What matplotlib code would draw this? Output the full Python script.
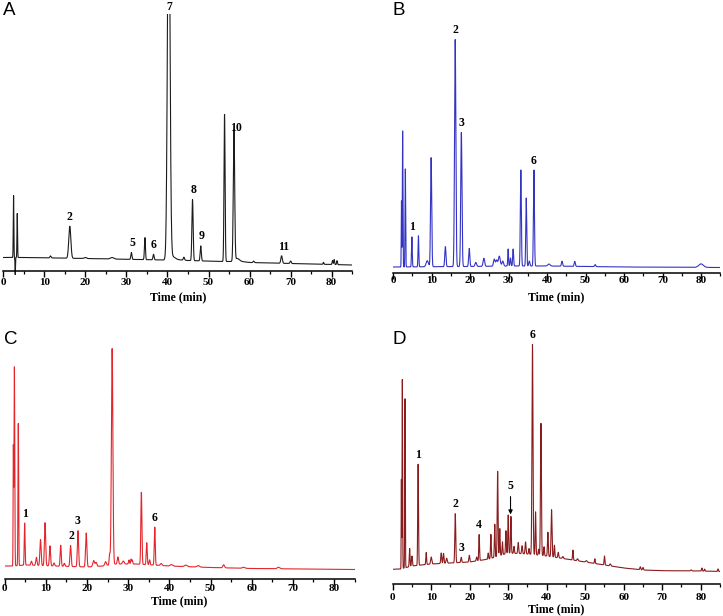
import numpy as np
import matplotlib
matplotlib.use("Agg")
import matplotlib.pyplot as plt
from matplotlib.ticker import MultipleLocator

# ---- peak tables (time in min, signal a.u.) ----
A_rt = [2.5, 2.9, 3.4, 11.5, 16.2, 20.0, 26.5, 31.2, 34.5, 36.6, 40.3, 41.2, 44.0, 46.1,
        48.1, 53.9, 56.2, 57.0, 61.0, 67.8, 70.0, 78.0, 80.2, 80.6, 81.3]
A_h = [62, -17, 44, 2, 32, 1, 1.5, 7, 22, 5.5, 400, 3, 3, 61,
       15, 147, 131, 3, 1.5, 7.5, 2.5, 2, 4, 5, 4]
A_w = [0.07, 0.05, 0.07, 0.15, 0.25, 0.3, 0.4, 0.13, 0.12, 0.14, 0.3, 0.6, 0.15, 0.15,
       0.14, 0.13, 0.17, 0.5, 0.15, 0.18, 0.15, 0.1, 0.1, 0.1, 0.1]
A_base_t = [0, 2, 5, 20, 39, 42, 45, 53, 58, 60, 70, 80, 85]
A_base = [13, 13, 13, 12, 10.5, 11, 10, 9, 9, 8, 7, 6, 5.5]

B_rt = [2.2, 2.5, 3.2, 4.9, 6.6, 8.9, 9.9, 13.6, 16.15, 17.75, 19.8, 21.5, 23.6, 26.3,
        26.9, 27.6, 28.5, 29.9, 30.5, 31.2, 33.2, 34.6, 35.4, 36.6, 40.5, 43.9, 47.2,
        52.5, 80.0]
B_h = [66, 136, 98, 30, 31, 6, 109, 20, 227, 134, 18, 4, 8, 7,
       6, 10, 5, 17, 8, 17, 96, 68, 5, 96, 2, 5, 5,
       2, 3.5]
B_w = [0.06, 0.08, 0.08, 0.1, 0.1, 0.3, 0.15, 0.15, 0.17, 0.16, 0.15, 0.2, 0.2, 0.2,
       0.2, 0.25, 0.2, 0.1, 0.12, 0.12, 0.13, 0.12, 0.15, 0.13, 0.3, 0.15, 0.15,
       0.15, 0.6]
B_base_t = [0, 2, 10, 20, 30, 40, 60, 85]
B_base = [6, 6, 6.3, 6.5, 7, 7, 6, 5.5]

C_rt = [2.1, 2.35, 3.3, 4.85, 6.5, 7.7, 8.7, 9.8, 11.0, 12.0, 13.6, 14.5, 16.0, 17.8,
        19.8, 21.6, 22.2, 24.5, 25.5, 26.1, 27.5, 28.8, 30.2, 30.7, 31.0, 33.2, 34.5,
        35.2, 36.45, 38.0, 40.5, 44.0, 47.0, 53.2, 58.0, 66.5]
C_h = [117, 199, 142, 42, 4, 8, 26, 43, 20, 3, 21, 3, 21, 36,
       34, 6, 4, 4, 11, 216, 7, 3, 4, 5, 4, 72, 22,
       5, 38, 2, 1.5, 1.5, 1.5, 3, 1, 1.5]
C_w = [0.06, 0.09, 0.08, 0.1, 0.15, 0.15, 0.15, 0.15, 0.14, 0.15, 0.13, 0.15, 0.15, 0.15,
       0.16, 0.2, 0.2, 0.2, 0.12, 0.18, 0.15, 0.2, 0.12, 0.1, 0.1, 0.13, 0.12,
       0.12, 0.12, 0.2, 0.3, 0.3, 0.3, 0.2, 0.3, 0.3]
C_base_t = [0, 2, 5, 12, 20, 24, 27, 32, 36, 40, 50, 60, 80, 85]
C_base = [13, 13, 14, 13, 12, 13, 15, 15, 14, 13, 11.5, 10.5, 9.7, 9.5]

D_rt = [2.25, 2.5, 3.2, 4.4, 5.0, 6.6, 8.7, 10.0, 12.6, 13.2, 14.0, 16.25, 17.8, 19.9,
        21.8, 22.45, 24.8, 25.5, 26.5, 27.25, 27.8, 28.5, 29.4, 30.0, 30.7, 31.5, 32.6,
        33.6, 34.5, 35.4, 36.3, 37.1, 37.9, 38.5, 39.3, 40.3, 41.25, 42.0, 43.0, 44.2,
        46.8, 48.0, 50.3, 52.5, 55.0, 56.5, 64.3, 65.0, 77.5, 80.3, 81.0, 84.5]
D_h = [89, 189, 169, 18, 10, 101, 12, 7, 10.5, 10, 5, 49, 5, 6.7,
       4, 26, 6, 24, 33, 85, 27, 13, 23, 38, 36.7, 7, 11,
       8, 12, 5.7, 210, 43, 6, 132, 9, 24, 47, 12, 5.5, 2,
       10, 2, 1.5, 4.7, 9, 2, 3, 2.5, 1, 3, 2, 2.5]
D_w = [0.05, 0.07, 0.07, 0.1, 0.12, 0.1, 0.1, 0.15, 0.12, 0.12, 0.15, 0.12, 0.12, 0.12,
       0.12, 0.1, 0.1, 0.1, 0.1, 0.11, 0.1, 0.1, 0.1, 0.1, 0.1, 0.1, 0.12,
       0.12, 0.12, 0.1, 0.13, 0.1, 0.1, 0.12, 0.1, 0.11, 0.12, 0.1, 0.12, 0.15,
       0.1, 0.15, 0.2, 0.1, 0.1, 0.15, 0.12, 0.12, 0.15, 0.1, 0.1, 0.1]
D_base_t = [0, 2, 5, 10, 15, 20, 25, 30, 35, 40, 45, 50, 55, 60, 65, 70, 80, 85]
D_base = [14.7, 15, 18, 20, 21, 22, 25, 31, 30, 28, 25, 22, 19, 16, 14, 13.3, 13, 12.5]

# peak labels: (text, retention time)
A_labels = [("2", 16.2), ("5", 31.4), ("6", 36.7), ("7", 40.5), ("8", 46.4), ("9", 48.3),
            ("10", 56.6), ("11", 68.2)]
B_labels = [("1", 4.9), ("2", 16.15), ("3", 17.9), ("6", 36.6)]
C_labels = [("1", 4.85), ("2", 16.1), ("3", 17.8), ("6", 36.5)]
D_labels = [("1", 6.6), ("2", 16.25), ("3", 17.8), ("4", 22.4), ("6", 36.3)]

T = np.linspace(0, 85, 8501)


def trace(rt, h, w, bt, bv):
    y = np.interp(T, bt, bv)
    for t0, a, s in zip(rt, h, w):
        y = y + a * np.exp(-0.5 * ((T - t0) / s) ** 2)
    return y


SERIF = "Liberation Serif"
W, H = 723, 616

fig = plt.figure(figsize=(W / 100, H / 100), dpi=100)

# panel boxes in pixels: x at t=0, x at t=85, y of time axis, y of top;
# then tick-label pad, x-label pad, y of the panel letter
panels = [
    ("A", (A_rt, A_h, A_w, A_base_t, A_base), A_labels, "#1c1c1c", (3.3, 352.2, 270.5, 14), 1.5, 3.0, 2),
    ("B", (B_rt, B_h, B_w, B_base_t, B_base), B_labels, "#3434c4", (393, 720.3, 273, 20), -1.5, 4.3, 2),
    ("C", (C_rt, C_h, C_w, C_base_t, C_base), C_labels, "#e4262c", (4.7, 354.6, 579, 330), -0.7, 2.2, 331),
    ("D", (D_rt, D_h, D_w, D_base_t, D_base), D_labels, "#8a1c1e", (392.7, 720, 584, 330), 2.2, 1.5, 331),
]

for letter, data, labels, color, (x0, x1, yax, ytop), tpad, lpad, yletter in panels:
    below = 8
    ax = fig.add_axes([x0 / W, (H - yax - below) / H, (x1 - x0) / W, (yax + below - ytop) / H])
    y = trace(*data)
    ax.plot(T, y, color=color, lw=0.8)
    ytop_val = yax - ytop
    ax.set_xlim(0, 85)
    ax.set_ylim(-below, ytop_val)
    for s in ("left", "right", "top"):
        ax.spines[s].set_visible(False)
    ax.spines["bottom"].set_position(("data", 0))
    ax.spines["bottom"].set_linewidth(1.1)
    ax.set_yticks([])
    ax.xaxis.set_major_locator(MultipleLocator(10))
    ax.xaxis.set_minor_locator(MultipleLocator(5))
    ax.tick_params(axis="x", which="major", direction="out", length=4, width=1.0,
                   pad=tpad, labelsize=8)
    ax.tick_params(axis="x", which="minor", direction="out", length=2.2, width=0.9)
    ax.set_xticks(range(0, 90, 10))
    ax.set_xticklabels([str(v) for v in range(0, 90, 10)], fontfamily=SERIF, fontweight="bold")
    ax.set_xlabel("Time (min)", fontfamily=SERIF, fontweight="bold", fontsize=8.5, labelpad=lpad)

    for txt, t0 in labels:
        m = (T > t0 - 0.35) & (T < t0 + 0.35)
        peak = y[m].max()
        top = min(peak, ytop_val)
        off = 0.8 if peak > ytop_val else 2.5
        ax.annotate(txt, xy=(t0, top), xytext=(0, off), textcoords="offset points",
                    ha="center", va="bottom", fontfamily=SERIF, fontweight="bold",
                    fontsize=8.5, annotation_clip=False)

    if letter == "D":
        m = (T > 30.3) & (T < 31.0)
        top = y[m].max()
        ax.annotate("5", xy=(30.6, top + 2), xytext=(30.6, top + 24),
                    ha="center", va="bottom", fontfamily=SERIF, fontweight="bold", fontsize=8.5,
                    arrowprops=dict(arrowstyle="-|>", color="black", lw=0.8,
                                    mutation_scale=6, shrinkA=1, shrinkB=0))

    fig.text((x0 - 0.5) / W, 1 - yletter / H, letter,
             fontfamily="Liberation Sans", fontsize=13.5, ha="left", va="top")

fig.savefig("out.png", dpi=100)
